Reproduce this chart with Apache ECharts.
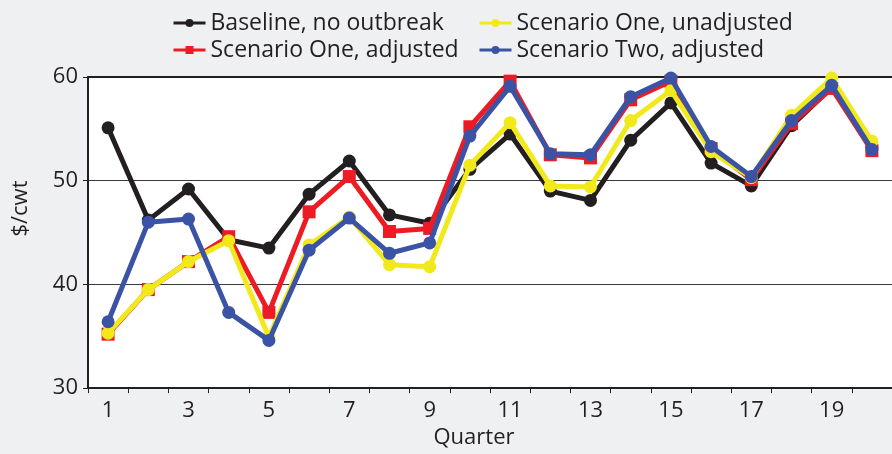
<!DOCTYPE html>
<html>
<head>
<meta charset="utf-8">
<script src="https://cdn.jsdelivr.net/npm/echarts@6/dist/echarts.min.js"></script>
<style>
html,body{margin:0;padding:0;background:#eff0f2;}
#chart{width:892px;height:454px;}
</style>
</head>
<body>
<div id="chart"></div>
<script>
var quarters = ['1','2','3','4','5','6','7','8','9','10','11','12','13','14','15','16','17','18','19','20'];
var baseline = [55.1, 46.2, 49.2, 44.3, 43.5, 48.7, 51.9, 46.7, 45.9, 51.1, 54.5, 49.0, 48.1, 53.9, 57.5, 51.7, 49.5, 55.3, 59.0, 53.2];
var scenOneAdj = [35.2, 39.5, 42.2, 44.6, 37.3, 47.0, 50.4, 45.1, 45.4, 55.2, 59.6, 52.5, 52.2, 57.8, 59.6, 53.1, 50.1, 55.5, 58.9, 52.9];
var scenOneUnadj = [35.3, 39.5, 42.2, 44.2, 34.9, 43.8, 46.5, 41.9, 41.7, 51.5, 55.6, 49.5, 49.4, 55.8, 58.7, 52.8, 50.3, 56.3, 59.9, 53.8];
var scenTwoAdj = [36.4, 46.0, 46.3, 37.3, 34.6, 43.3, 46.4, 43.0, 44.0, 54.3, 59.1, 52.6, 52.5, 58.1, 59.9, 53.3, 50.4, 55.8, 59.2, 53.0];
var yTicks = {min: 30, max: 60, interval: 10};

var FONT = 'Open Sans';
var TXT = '#231f20';

function mkSeries(name, data, color, symbol, z) {
  return {
    name: name, type: 'line', data: data, z: z,
    symbol: symbol, symbolSize: 13,
    showSymbol: true,
    lineStyle: {color: color, width: 5},
    itemStyle: {color: color},
    emphasis: {disabled: true},
    animation: false
  };
}

var chart = echarts.init(document.getElementById('chart'));
var legendBase = {
  orient: 'vertical', itemWidth: 32, itemHeight: 10, itemGap: 3, padding: 0,
  textStyle: {fontFamily: FONT, fontSize: 23, color: TXT, lineHeight: 24},
  lineStyle: {width: 3},
  selectedMode: false
};
chart.setOption({
  backgroundColor: '#eff0f2',
  animation: false,
  textStyle: {fontFamily: FONT},
  legend: [
    Object.assign({}, legendBase, {left: 172, top: 11, data: ['Baseline, no outbreak', 'Scenario One, adjusted']}),
    Object.assign({}, legendBase, {left: 478, top: 11, data: ['Scenario One, unadjusted', 'Scenario Two, adjusted']})
  ],
  grid: {left: 88, right: -12, top: 77, bottom: 59, show: true, backgroundColor: '#ffffff', borderWidth: 0, containLabel: false},
  xAxis: [{
    type: 'category', data: quarters, boundaryGap: true,
    name: 'Quarter', nameLocation: 'middle', nameGap: 38,
    nameTextStyle: {fontFamily: FONT, fontSize: 22, color: TXT, padding: [0, 32, 0, 0]},
    axisLine: {show: true, lineStyle: {color: TXT, width: 2}},
    axisTick: {show: true, interval: 0, length: 5, lineStyle: {color: TXT, width: 1}},
    axisLabel: {interval: 1, fontFamily: FONT, fontSize: 22, color: TXT, margin: 12},
    splitLine: {show: false}
  }, {
    type: 'category', data: quarters, position: 'top', boundaryGap: true,
    axisLine: {show: true, lineStyle: {color: TXT, width: 2}},
    axisTick: {show: false}, axisLabel: {show: false}, splitLine: {show: false}
  }],
  yAxis: {
    type: 'value', min: yTicks.min, max: yTicks.max, interval: yTicks.interval,
    name: '$/cwt', nameLocation: 'middle', nameGap: 56, nameRotate: 90,
    nameTextStyle: {fontFamily: FONT, fontSize: 22, color: TXT, padding: [0, 0, 0, 48]},
    axisLine: {show: true, lineStyle: {color: TXT, width: 2}},
    axisTick: {show: true, length: 5, lineStyle: {color: TXT, width: 1}},
    axisLabel: {fontFamily: FONT, fontSize: 22, color: TXT, margin: 10},
    splitLine: {show: true, lineStyle: {color: '#3a3a3a', width: 1}}
  },
  series: [
    mkSeries('Baseline, no outbreak', baseline, '#231f20', 'circle', 2),
    mkSeries('Scenario One, adjusted', scenOneAdj, '#ed1c24', 'rect', 3),
    mkSeries('Scenario One, unadjusted', scenOneUnadj, '#f2e91a', 'circle', 4),
    mkSeries('Scenario Two, adjusted', scenTwoAdj, '#3a53a4', 'circle', 5)
  ]
});
</script>
</body>
</html>
